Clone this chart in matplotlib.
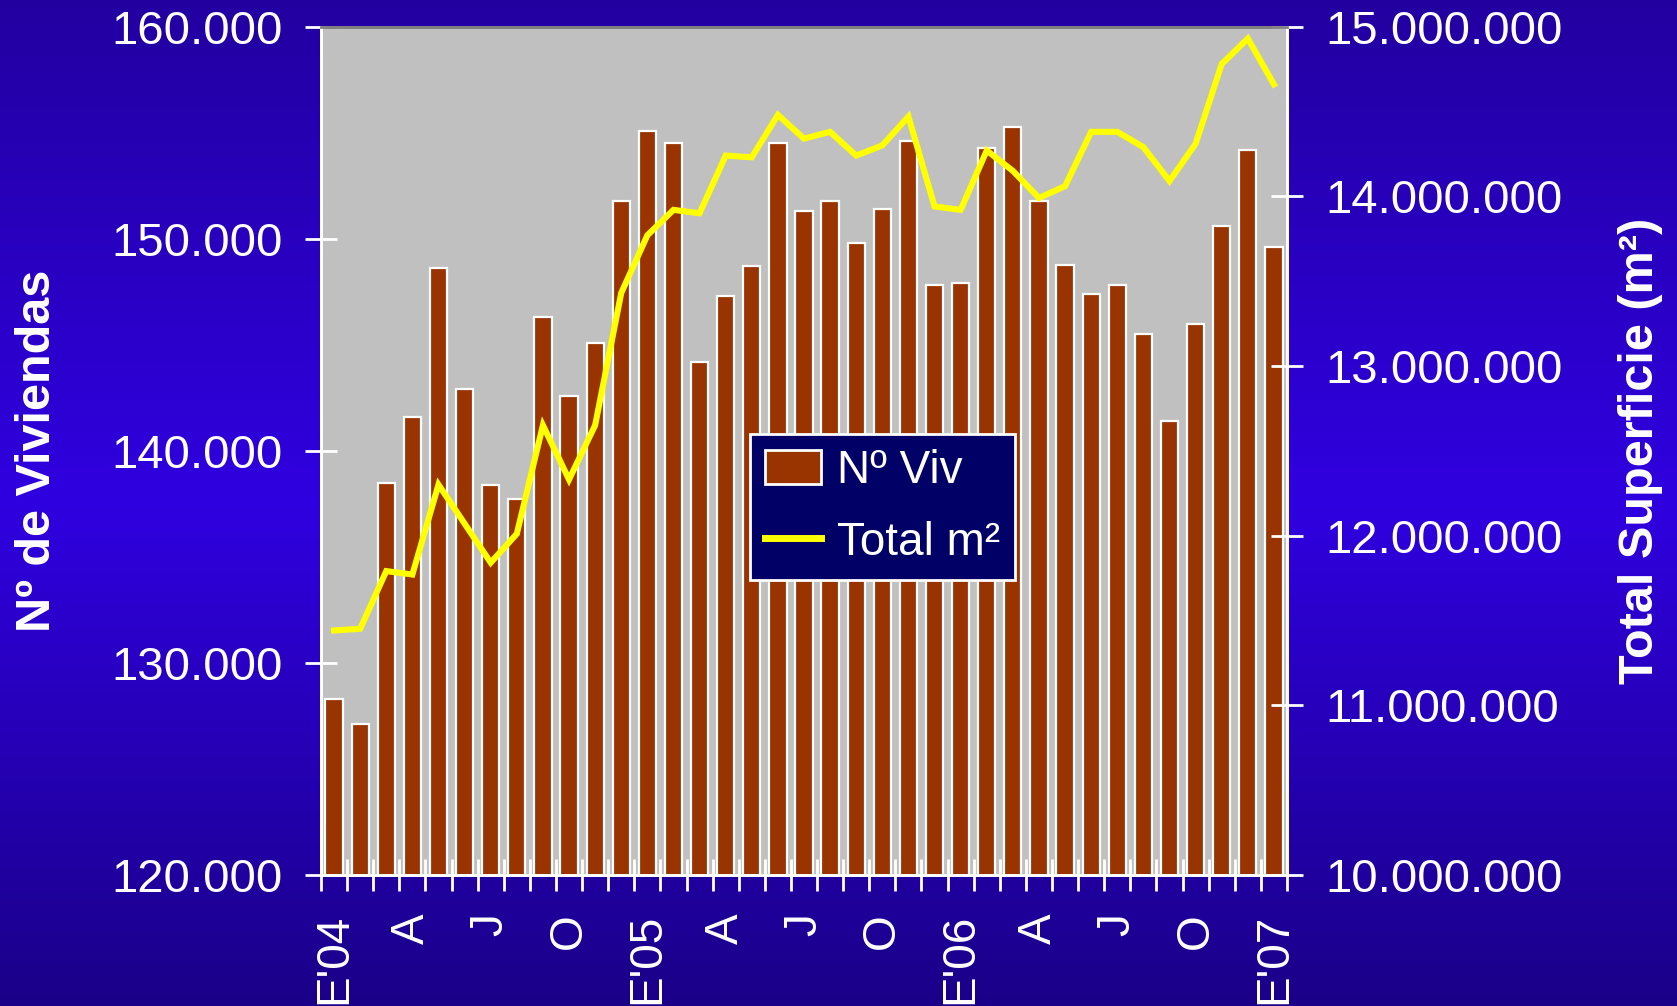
import matplotlib
matplotlib.use("Agg")
import matplotlib.pyplot as plt
import numpy as np
from matplotlib.colors import LinearSegmentedColormap
from matplotlib.patches import Patch
from matplotlib.lines import Line2D
from matplotlib import font_manager

# ---- data ----
months = ["E'04", "F", "M", "A", "M", "J", "J", "A", "S", "O", "N", "D",
          "E'05", "F", "M", "A", "M", "J", "J", "A", "S", "O", "N", "D",
          "E'06", "F", "M", "A", "M", "J", "J", "A", "S", "O", "N", "D",
          "E'07"]
tick_labels = ["E'04", "A", "J", "O", "E'05", "A", "J", "O", "E'06", "A", "J", "O", "E'07"]
viviendas = [128300, 127100, 138500, 141600, 148600, 142900, 138400, 137700,
             146300, 142600, 145100, 151800, 155100, 154500, 144200, 147300,
             148700, 154500, 151300, 151800, 149800, 151400, 154600, 147800,
             147900, 154300, 155250, 151800, 148750, 147400, 147800, 145500,
             141400, 146000, 150600, 154200, 149600]
total_m2 = [11440000, 11450000, 11790000, 11770000, 12300000, 12070000, 11840000,
            12010000, 12650000, 12330000, 12650000, 13430000, 13770000, 13920000,
            13900000, 14240000, 14230000, 14480000, 14340000, 14380000, 14240000,
            14300000, 14470000, 13940000, 13920000, 14270000, 14150000, 13990000,
            14060000, 14380000, 14380000, 14290000, 14090000, 14310000, 14780000,
            14930000, 14660000]
left_ticks = [120000, 130000, 140000, 150000, 160000]
left_labels = ["120.000", "130.000", "140.000", "150.000", "160.000"]
right_ticks = [10000000, 11000000, 12000000, 13000000, 14000000, 15000000]
right_labels = ["10.000.000", "11.000.000", "12.000.000", "13.000.000", "14.000.000", "15.000.000"]

plt.rcParams['font.family'] = ['Liberation Sans', 'DejaVu Sans']

installed = {f.name for f in font_manager.fontManager.ttflist}
narrow = 'Liberation Sans Narrow' in installed
label_family = ['Liberation Sans Narrow', 'DejaVu Sans'] if narrow else ['Liberation Sans', 'DejaVu Sans']
label_size = 40 if narrow else 35

W, H = 1677, 1006
fig = plt.figure(figsize=(W / 100, H / 100), dpi=100)

# gradient background
bg = fig.add_axes([0, 0, 1, 1], zorder=-10)
cmap = LinearSegmentedColormap.from_list("bg", [(0.0, "#1a0088"), (0.5, "#3000e0"), (1.0, "#2200a0")])
grad = np.linspace(0, 1, 256).reshape(-1, 1)
bg.imshow(grad, aspect='auto', cmap=cmap, origin='lower', extent=[0, 1, 0, 1])
bg.axis('off')

left = 321 / W
right = 1287 / W
top = 1 - 26.7 / H
bottom = 1 - 874.7 / H
ax = fig.add_axes([left, bottom, right - left, top - bottom])
ax.set_facecolor("#c0c0c0")

x = np.arange(len(months))
ax.bar(x, viviendas, width=0.66, color="#993300", edgecolor="white", linewidth=1.6, zorder=2)
ax.set_xlim(-0.5, len(months) - 0.5)
ax.set_ylim(120000, 160000)
ax.set_yticks(left_ticks)
ax.set_yticklabels(left_labels)

# x ticks: labels every 3 months, tick marks at bar boundaries
ax.set_xticks(x[::3])
ax.set_xticklabels(tick_labels, rotation=90, va='top', ha='center')
ax.tick_params(axis='x', which='major', length=0, pad=28, labelsize=33, colors='white')
ax.set_xticks(np.arange(-0.5, len(months), 1.0), minor=True)
ax.tick_params(axis='x', which='minor', direction='inout', length=23, width=2, color='white')
ax.tick_params(axis='y', direction='inout', length=23, width=2, color='white',
               labelsize=34, labelcolor='white', pad=16)

for s in ['left', 'bottom', 'right']:
    ax.spines[s].set_color('white')
    ax.spines[s].set_linewidth(2)
ax.spines['top'].set_color('#808080')
ax.spines['top'].set_linewidth(2)

ax.set_ylabel("Nº de Viviendas", color='white', fontsize=label_size, fontweight='bold',
              family=label_family)
ax.yaxis.set_label_coords(-(321 - 60) / 966, 0.5)

ax2 = ax.twinx()
ax2.plot(x, total_m2, color="#ffff00", linewidth=4.4, zorder=3, solid_joinstyle='miter')
ax2.set_ylim(10000000, 15000000)
ax2.set_yticks(right_ticks)
ax2.set_yticklabels(right_labels)
ax2.tick_params(axis='y', direction='inout', length=23, width=2, color='white',
                labelsize=34, labelcolor='white', pad=16)
for s in ['left', 'bottom', 'right']:
    ax2.spines[s].set_color('white')
    ax2.spines[s].set_linewidth(2)
ax2.spines['top'].set_color('#808080')
ax2.spines['top'].set_linewidth(2)
ax2.set_ylabel("Total Superficie (m²)", color='white', fontsize=label_size, fontweight='bold',
               family=label_family)
ax2.yaxis.set_label_coords((1618 - 321) / 966, 0.5)

handles = [Patch(facecolor="#993300", edgecolor="white", linewidth=2),
           Line2D([0], [0], color="#ffff00", linewidth=5)]
leg = ax2.legend(handles, ["Nº Viv", "Total m²"], loc='upper left',
                 bbox_to_anchor=((750 - 321) / 966, 1 - (434 - 26.7) / 848),
                 fontsize=33, labelcolor='white', facecolor='#000066', edgecolor='white',
                 framealpha=1, fancybox=False, borderpad=0.33, handlelength=1.22,
                 handleheight=0.75, handletextpad=0.35, labelspacing=0.6, borderaxespad=0)
leg.get_frame().set_linewidth(2)

fig.savefig("out.png", dpi=100)
